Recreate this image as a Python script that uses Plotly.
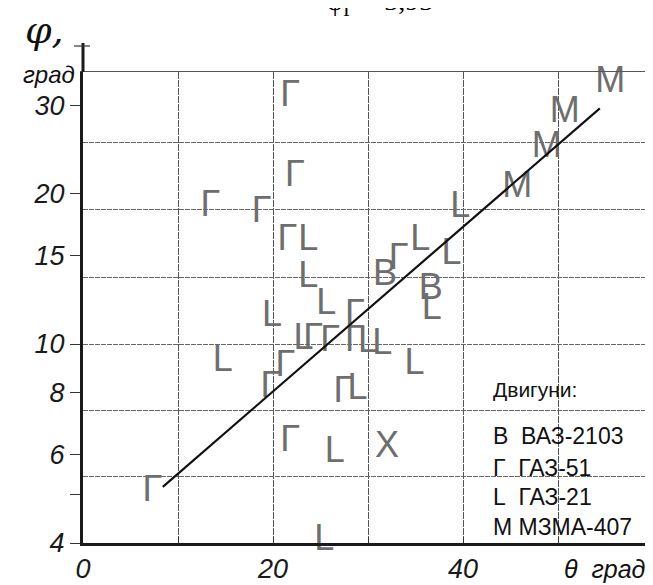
import plotly.graph_objects as go
import math

# ---- data ----
# Г  – ГАЗ-51
gaz51_theta = [21.8, 22.3, 13.4, 18.8, 21.5, -0.6, 24.2, 26.0, 28.6, 28.6, 33.2, 21.3, 19.7, 27.4, 21.8, 7.3]
gaz51_phi   = [31.2, 21.6, 18.8, 18.3, 16.1, 13.7, 10.2, 10.1, 11.4, 10.1, 14.7, 9.0, 8.17, 7.98, 6.37, 5.06]
# L  – ГАЗ-21
gaz21_theta = [23.7, 23.7, 25.6, 19.9, 23.2, 30.0, 31.5, 35.5, 38.8, 36.7, 39.7, 14.7, 28.9, 34.9, 26.5, 25.4]
gaz21_phi   = [16.1, 13.55, 11.97, 11.3, 10.2, 10.05, 9.95, 16.1, 15.1, 11.7, 18.7, 9.2, 8.09, 9.08, 6.05, 4.04]
# В  – ВАЗ-2103
vaz_theta = [31.8, 36.6]
vaz_phi   = [13.7, 12.8]
# М  – МЗМА-407
mzma_theta = [45.7, 48.8, 50.7, 55.5]
mzma_phi   = [20.5, 24.7, 29.0, 33.3]
# other (×)
other_theta = [32.0]
other_phi   = [6.19]
# fitted line
fit_theta = [8.4, 54.4]
fit_phi   = [5.18, 29.6]

x_ticks = [0, 10, 20, 30, 40, 50]
x_ticktext = ["0", "", "20", "", "40", ""]
y_ticks = [4, 5, 6, 8, 10, 15, 20, 30]
y_ticktext = ["4", "", "6", "8", "10", "15", "20", "30"]
y_grid = [5.445, 7.38, 10, 13.61, 18.62, 25.35]

legend_title = "Двигуни:"
legend_lines = ["В\u00a0\u00a0ВАЗ-2103", "Г\u00a0\u00a0ГАЗ-51", "L\u00a0\u00a0ГАЗ-21", "М\u00a0МЗМА-407"]

X_RANGE = [0, 59.47]
Y_RANGE = [math.log10(4), math.log10(35.0)]

# page body has an 8px margin: the figure is shifted by OFF px right and down
OFF = 8
L_, R_, T_, B_ = 83, 648, 72, 543   # plot area in screen pixels

LETTER_FONT = dict(family="Liberation Sans Narrow, Liberation Sans, Arial", size=36, color="#6e6e6e")

fig = go.Figure()

def letters(xs, ys, ch):
    fig.add_trace(go.Scatter(x=xs, y=ys, mode="text", text=[ch] * len(xs),
                             textposition="middle center", textfont=LETTER_FONT,
                             cliponaxis=False, showlegend=False, hoverinfo="skip"))

letters(gaz51_theta, gaz51_phi, "Г")
letters(gaz21_theta, gaz21_phi, "L")
letters(vaz_theta, vaz_phi, "В")
letters(mzma_theta, mzma_phi, "М")
letters(other_theta, other_phi, "X")

fig.add_trace(go.Scatter(x=fit_theta, y=fit_phi, mode="lines",
                         line=dict(color="#111111", width=2.2),
                         showlegend=False, hoverinfo="skip"))

# invisible trace for the overlay axes (grid + border)
fig.add_trace(go.Scatter(x=[30], y=[10], xaxis="x2", yaxis="y2", mode="markers",
                         marker=dict(opacity=0), showlegend=False, hoverinfo="skip"))

tickfont = dict(family="Liberation Sans, Arial", size=27, color="#1a1a1a", style="italic")

fig.update_layout(
    width=653, height=585,
    margin=dict(l=L_ - OFF, r=653 - (R_ - OFF), t=T_ - OFF, b=585 - (B_ - OFF), autoexpand=False),
    paper_bgcolor="white", plot_bgcolor="white",
    xaxis=dict(range=X_RANGE, tickmode="array", tickvals=x_ticks, ticktext=x_ticktext,
               ticks="inside", ticklen=6, tickwidth=1.2, tickcolor="#333",
               showline=True, linewidth=3, linecolor="#1a1a1a", automargin=False,
               showgrid=True, gridcolor="#555", gridwidth=1, griddash="7px,1px",
               zeroline=False, tickfont=tickfont),
    yaxis=dict(type="log", range=Y_RANGE, tickmode="array", tickvals=y_ticks, ticktext=y_ticktext,
               ticks="outside", ticklen=10, tickwidth=1.2, tickcolor="#333",
               showline=True, linewidth=3, linecolor="#1a1a1a", automargin=False,
               showgrid=False, zeroline=False, tickfont=tickfont),
    xaxis2=dict(overlaying="x", side="top", range=X_RANGE, showline=True, linewidth=1.2,
                linecolor="#555", showgrid=False, showticklabels=False, ticks="", zeroline=False,
                automargin=False),
    yaxis2=dict(overlaying="y", side="right", type="log", range=Y_RANGE, tickmode="array",
                tickvals=y_grid, showticklabels=False, ticks="", showline=True, linewidth=1.2,
                linecolor="#555", showgrid=True, gridcolor="#666", gridwidth=1,
                griddash="5px,1px", zeroline=False, automargin=False),
)

def px(xp):
    return (xp - L_) / float(R_ - L_)

def py(yp):
    return (B_ - yp) / float(B_ - T_)

# white box behind the engine list
fig.add_shape(type="rect", xref="paper", yref="paper", x0=px(470), x1=1.0, y0=py(540), y1=py(415),
              fillcolor="white", line=dict(width=0), layer="between")
# y-axis extension above the top grid line, with a tick at 40
fig.add_shape(type="line", xref="paper", yref="paper", x0=0, x1=0, y0=1, y1=py(43),
              line=dict(color="#1a1a1a", width=3))
fig.add_shape(type="line", xref="paper", yref="paper", x0=px(74), x1=px(90), y0=py(46), y1=py(46),
              line=dict(color="#333", width=1.2))

def note(text, xs, ys, size, xanchor="center", yanchor="middle", family="Liberation Sans, Arial",
         style="normal", color="#111"):
    return dict(text=text, x=px(xs), y=py(ys), xref="paper", yref="paper", showarrow=False,
                xanchor=xanchor, yanchor=yanchor,
                font=dict(family=family, size=size, color=color, style=style))

ann = [
    note("φ,", 44, 30, 38, family="DejaVu Serif, Liberation Serif", style="italic"),
    note("град", 77, 74, 24, xanchor="right", style="italic"),
    note("θ\u00a0\u00a0град", 562, 569, 25, xanchor="left", style="italic"),
    note("φ<sub>Г</sub> = 3,93·", 385, 22, 28, yanchor="bottom",
         family="Liberation Serif, DejaVu Serif", color="#000"),
    note(legend_title, 491, 389, 21, xanchor="left"),
]
for txt, yc in zip(legend_lines, [436, 468, 497, 527]):
    ann.append(note(txt, 491, yc, 23, xanchor="left"))
fig.update_layout(annotations=ann)

fig.write_html("out.html")
